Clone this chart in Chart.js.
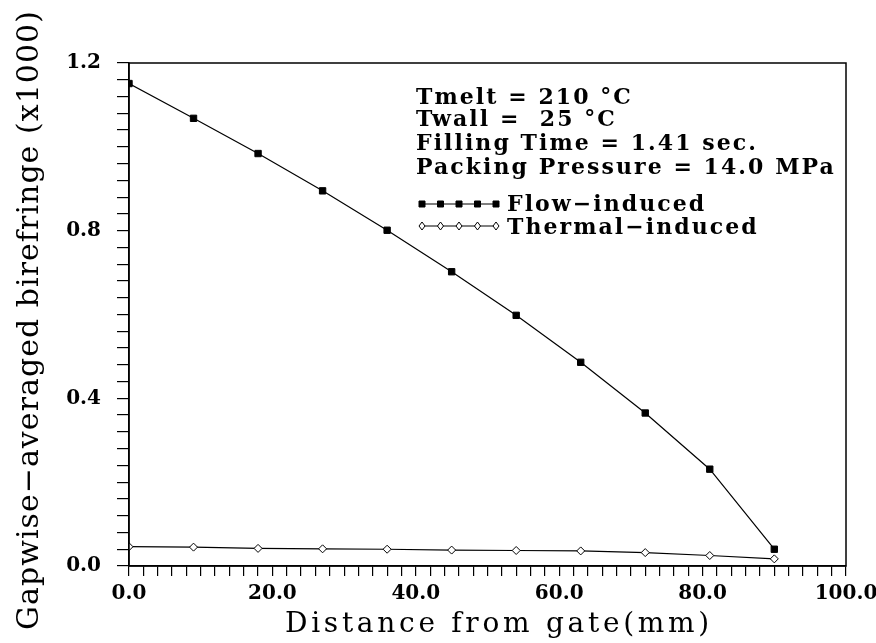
<!DOCTYPE html>
<html>
<head>
<meta charset="utf-8">
<script src="https://cdn.jsdelivr.net/npm/chart.js@4/dist/chart.umd.min.js"></script>
<style>
html,body{margin:0;padding:0;background:#fff;}
#wrap{width:876px;height:643px;position:relative;}
</style>
</head>
<body>
<div id="wrap"><canvas id="c" width="876" height="643"></canvas></div>
<script>
const distance = [0, 9, 18, 27, 36, 45, 54, 63, 72, 81, 90];
const flowInduced = [1.151, 1.068, 0.984, 0.895, 0.801, 0.702, 0.598, 0.486, 0.365, 0.231, 0.040];
const thermalInduced = [0.046, 0.045, 0.042, 0.041, 0.040, 0.038, 0.037, 0.036, 0.032, 0.025, 0.017];
const seriesNames = ['Flow\u2212induced', 'Thermal\u2212induced'];
const annotationLines = ['Tmelt = 210 \u00B0C', 'Twall =  25 \u00B0C', 'Filling Time = 1.41 sec.', 'Packing Pressure = 14.0 MPa'];
const xTitle = 'Distance from gate(mm)';
const yTitle = 'Gapwise\u2212averaged birefringe (x1000)';

const FONT = "'DejaVu Serif', serif";

const toPts = (xs, ys) => xs.map((x, i) => ({x: x, y: ys[i]}));

function spacingFor(ctx, text, target) {
  ctx.letterSpacing = '0px';
  const w = ctx.measureText(text).width;
  return Math.max(0, (target - w) / text.length);
}

const annotPlugin = {
  id: 'annot',
  afterDatasetsDraw(chart) {
    const ctx = chart.ctx;
    ctx.save();
    ctx.fillStyle = '#000';
    ctx.textAlign = 'left';
    ctx.textBaseline = 'alphabetic';
    ctx.font = 'bold 22px ' + FONT;
    const sp = spacingFor(ctx, annotationLines[3], 420);
    ctx.letterSpacing = sp.toFixed(2) + 'px';
    const bl = [104, 126, 150, 174];
    annotationLines.forEach((t, i) => ctx.fillText(t, 416, bl[i]));
    // legend
    const legY = [204, 226];
    const legBase = [211, 234];
    chart.data.datasets.forEach((ds, i) => {
      const y = legY[i];
      ctx.strokeStyle = '#000';
      ctx.lineWidth = 1.2;
      ctx.beginPath();
      ctx.moveTo(421, y);
      ctx.lineTo(497, y);
      ctx.stroke();
      for (let k = 0; k < 5; k++) {
        const x = 422 + k * 18.5;
        ctx.fillStyle = ds.pointBackgroundColor;
        ctx.strokeStyle = '#000';
        ctx.lineWidth = 1;
        ctx.beginPath();
        if (i === 0) {
          ctx.rect(x - 3, y - 3, 6, 6);
        } else {
          ctx.moveTo(x, y - 4); ctx.lineTo(x + 3, y); ctx.lineTo(x, y + 4); ctx.lineTo(x - 3, y); ctx.closePath();
        }
        ctx.fill();
        ctx.stroke();
      }
      ctx.fillStyle = '#000';
      ctx.fillText(ds.label, 507, legBase[i]);
    });
    // axis titles
    ctx.textAlign = 'left';
    ctx.font = '28px ' + FONT;
    const sx = spacingFor(ctx, xTitle, 428);
    ctx.letterSpacing = sx.toFixed(2) + 'px';
    ctx.fillText(xTitle, 285, 632);
    ctx.font = '30px ' + FONT;
    const sy = spacingFor(ctx, yTitle, 620);
    ctx.letterSpacing = sy.toFixed(2) + 'px';
    ctx.save();
    ctx.translate(38, 630);
    ctx.rotate(-Math.PI / 2);
    ctx.fillText(yTitle, 0, 0);
    ctx.restore();
    // frame
    const a = chart.chartArea;
    ctx.strokeStyle = '#000';
    ctx.lineWidth = 1.5;
    ctx.strokeRect(a.left, a.top, a.right - a.left, a.bottom - a.top);
    ctx.restore();
  }
};

new Chart(document.getElementById('c'), {
  type: 'line',
  data: {
    datasets: [
      {
        label: seriesNames[0],
        data: toPts(distance, flowInduced),
        borderColor: '#000',
        borderWidth: 1.2,
        pointStyle: 'rect',
        pointRadius: 4.5,
        pointBackgroundColor: '#000',
        pointBorderColor: '#000',
        pointBorderWidth: 1,
        tension: 0
      },
      {
        label: seriesNames[1],
        data: toPts(distance, thermalInduced),
        borderColor: '#000',
        borderWidth: 1.2,
        pointStyle: 'rectRot',
        pointRadius: 4,
        pointBackgroundColor: '#fff',
        pointBorderColor: '#000',
        pointBorderWidth: 1,
        tension: 0
      }
    ]
  },
  options: {
    responsive: false,
    animation: false,
    layout: {padding: {top: 63, right: 30, left: 0, bottom: 0}},
    plugins: {legend: {display: false}, tooltip: {enabled: false}},
    scales: {
      x: {
        type: 'linear',
        min: 0, max: 100,
        afterFit(s) { s.height = 77; s.paddingLeft = 0; s.paddingRight = 0; },
        border: {display: true, color: '#000', width: 1.5},
        grid: {drawOnChartArea: false, drawTicks: true, tickLength: 10, color: '#000', lineWidth: 1.2},
        ticks: {
          stepSize: 2, autoSkip: false, maxRotation: 0, color: '#000', padding: 6,
          font: {family: FONT, size: 20, weight: 'bold'},
          callback(v) { return Math.abs(v / 20 - Math.round(v / 20)) < 1e-6 ? v.toFixed(1) : ''; }
        },
        title: {display: false}
      },
      y: {
        type: 'linear',
        min: 0, max: 1.2,
        afterFit(s) { s.width = 129; s.paddingTop = 0; s.paddingBottom = 0; },
        border: {display: true, color: '#000', width: 1.5},
        grid: {drawOnChartArea: false, drawTicks: true, tickLength: 12, color: '#000', lineWidth: 1.2},
        ticks: {
          stepSize: 0.04, autoSkip: false, color: '#000', padding: 16,
          font: {family: FONT, size: 20, weight: 'bold'},
          callback(v) { return Math.abs(v / 0.4 - Math.round(v / 0.4)) < 1e-6 ? v.toFixed(1) : ''; }
        },
        title: {display: false}
      }
    }
  },
  plugins: [annotPlugin]
});
</script>
</body>
</html>
